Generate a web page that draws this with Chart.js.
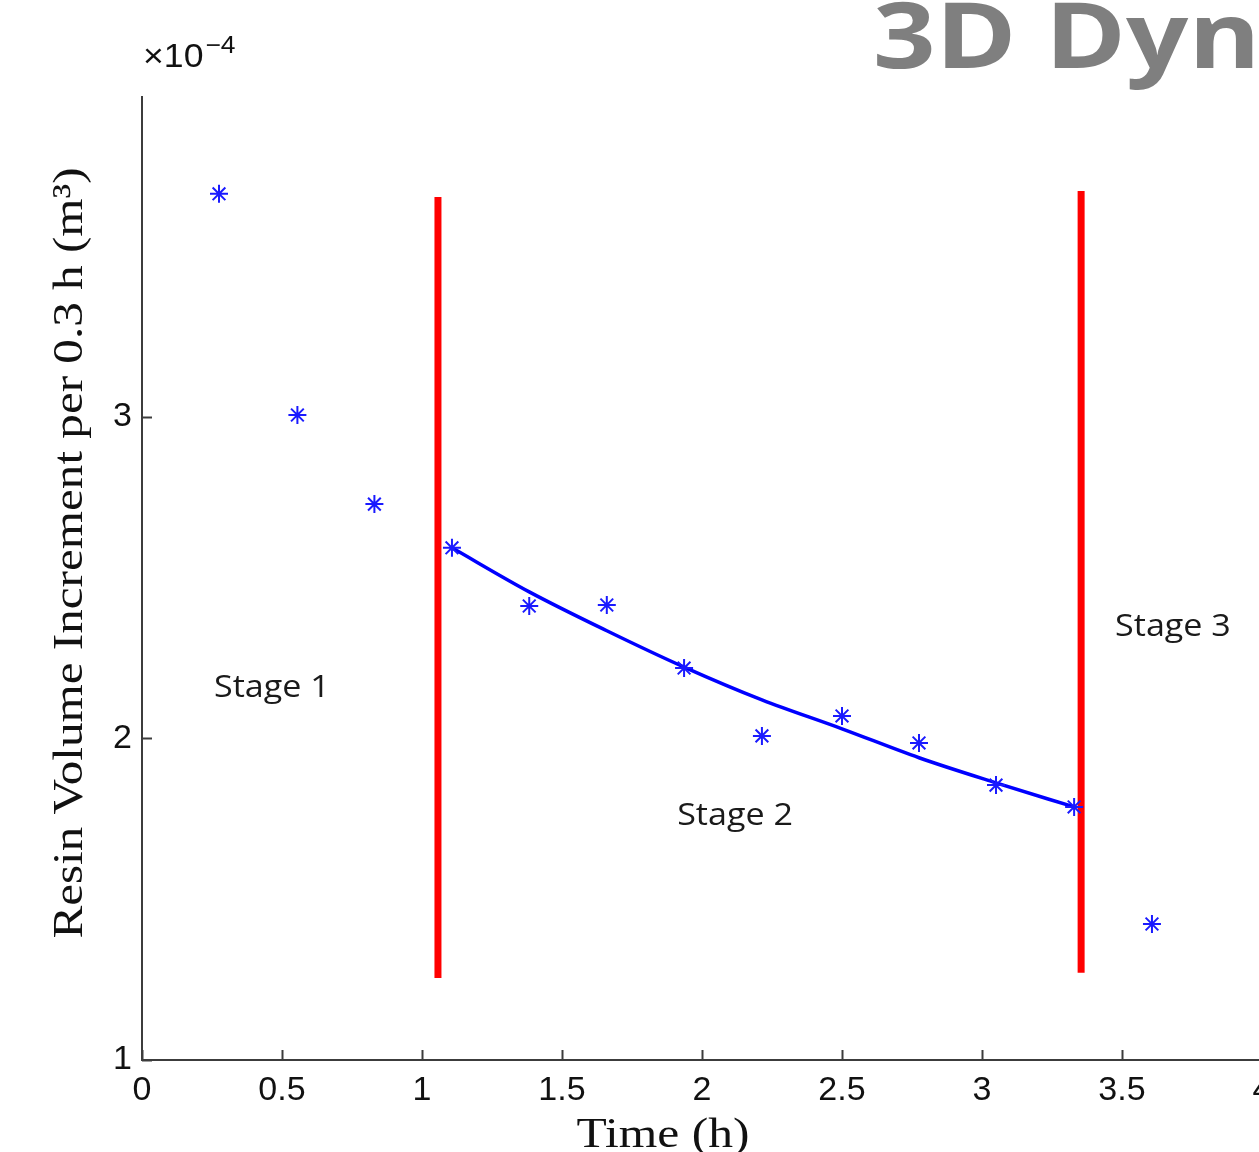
<!DOCTYPE html>
<html><head><meta charset="utf-8">
<script src="https://cdn.jsdelivr.net/npm/chart.js@4/dist/chart.umd.min.js"></script>
<style>
html,body{margin:0;padding:0;background:#fff;overflow:hidden;width:1259px;height:1152px}
#wrap{position:absolute;left:0;top:0;width:1300px;height:1152px}
</style></head><body><div id="wrap"><canvas id="c" width="1300" height="1152"></canvas></div>
<script>
// ---- data ----
const timeH      = [0.275, 0.555, 0.83, 1.107, 1.383, 1.66, 1.936, 2.214, 2.5, 2.775, 3.05, 3.329, 3.607];
const volumeInc  = [3.694, 3.006, 2.729, 2.593, 2.412, 2.415, 2.219, 2.008, 2.070, 1.986, 1.855, 1.787, 1.423];
const fitTime    = [1.107, 1.383, 1.66, 1.936, 2.214, 2.5, 2.775, 3.05, 3.329];
const fitValue   = [2.593, 2.456, 2.335, 2.222, 2.120, 2.030, 1.940, 1.862, 1.787];
const boundaryTime = [1.057, 3.354];
const boundaryLow  = [1.255, 1.271];
const boundaryHigh = [3.684, 3.703];
const xTicks = [0, 0.5, 1, 1.5, 2, 2.5, 3, 3.5, 4];
const yTicks = [1, 2, 3];
const stageNames = ['Stage 1', 'Stage 2', 'Stage 3'];
const stageTime  = [0.464, 2.118, 3.682];
const stageValue = [2.157, 1.759, 2.345];
const xTitle = 'Time (h)';
const yTitle = 'Resin Volume Increment per 0.3 h (m\u00B3)';
const headerText = '3D Dyn';

const datasets = [];
boundaryTime.forEach((t, i) => {
  datasets.push({
    type: 'line',
    data: [{x: t, y: boundaryLow[i]}, {x: t, y: boundaryHigh[i]}],
    borderColor: '#ff0000', borderWidth: 7, pointRadius: 0, borderCapStyle: 'butt', order: 1
  });
});
datasets.push({
  type: 'line',
  data: fitTime.map((t, i) => ({x: t, y: fitValue[i]})),
  borderColor: '#0000ff', borderWidth: 3.5, pointRadius: 0, cubicInterpolationMode: 'monotone', order: 2
});
datasets.push({
  type: 'scatter',
  data: timeH.map((t, i) => ({x: t, y: volumeInc[i]})),
  pointStyle: 'star', pointRadius: 9, borderWidth: 2,
  borderColor: '#1a1aff', backgroundColor: '#1a1aff', order: 0
});

function stretchedText(ctx, text, x, y, sx) {
  ctx.save();
  ctx.translate(x, y);
  ctx.scale(sx, 1);
  ctx.fillText(text, 0, 0);
  ctx.restore();
}

const decor = {
  id: 'decor',
  afterDraw(chart) {
    const ctx = chart.ctx;
    const xs = chart.scales.x, ys = chart.scales.y;
    const ca = chart.chartArea;
    ctx.save();
    // inward tick marks
    ctx.strokeStyle = '#3c3c3c';
    ctx.lineWidth = 2;
    xs.ticks.forEach(t => {
      const px = Math.round(xs.getPixelForValue(t.value)) + 0.5;
      ctx.beginPath(); ctx.moveTo(px, ca.bottom); ctx.lineTo(px, ca.bottom - 10); ctx.stroke();
    });
    ys.ticks.forEach(t => {
      const py = Math.round(ys.getPixelForValue(t.value)) + 0.5;
      ctx.beginPath(); ctx.moveTo(ca.left, py); ctx.lineTo(ca.left + 10, py); ctx.stroke();
    });
    // exponent label
    ctx.fillStyle = '#111';
    ctx.textBaseline = 'alphabetic';
    ctx.textAlign = 'left';
    ctx.font = '33px "Liberation Sans", Arial, sans-serif';
    stretchedText(ctx, '\u00D710', 143, 67, 1.08);
    const w = ctx.measureText('\u00D710').width * 1.08;
    ctx.font = '24px "Liberation Sans", Arial, sans-serif';
    stretchedText(ctx, '\u22124', 143 + w + 2, 53, 1.1);
    // stage labels
    ctx.font = '31px "Open Sans", sans-serif';
    ctx.textAlign = 'center';
    ctx.textBaseline = 'middle';
    ctx.fillStyle = '#1a1a1a';
    stageNames.forEach((s, i) => {
      stretchedText(ctx, s, xs.getPixelForValue(stageTime[i]), ys.getPixelForValue(stageValue[i]), 1.1);
    });
    // axis titles
    ctx.fillStyle = '#111';
    ctx.font = '42px "Liberation Serif", "Times New Roman", serif';
    ctx.textAlign = 'center';
    ctx.textBaseline = 'alphabetic';
    stretchedText(ctx, xTitle, 663, 1147, 1.18);
    ctx.save();
    ctx.translate(82, 553);
    ctx.rotate(-Math.PI / 2);
    ctx.scale(1.17, 1);
    ctx.fillText(yTitle, 0, 0);
    ctx.restore();
    // header
    ctx.font = 'bold 92px "Open Sans", sans-serif';
    ctx.fillStyle = '#7f7f7f';
    ctx.textAlign = 'left';
    stretchedText(ctx, headerText, 873, 68, 1.19);
    ctx.restore();
  }
};

const tickFont = {family: '"Liberation Sans", Arial, sans-serif', size: 34};
new Chart(document.getElementById('c'), {
  data: {datasets},
  options: {
    responsive: false, animation: false, devicePixelRatio: 1,
    layout: {padding: {left: 0, top: 97, right: 38, bottom: 0}},
    plugins: {legend: {display: false}, tooltip: {enabled: false}},
    scales: {
      x: {
        type: 'linear', min: 0, max: 4,
        afterBuildTicks: s => { s.ticks = xTicks.map(v => ({value: v})); },
        afterFit: s => { s.height = 92; },
        grid: {display: false, drawTicks: false},
        border: {display: true, color: '#3c3c3c', width: 2},
        ticks: {font: tickFont, color: '#111', padding: 10, maxRotation: 0, autoSkip: false,
                callback: v => String(v)}
      },
      y: {
        type: 'linear', min: 1, max: 3.995,
        afterBuildTicks: s => { s.ticks = yTicks.map(v => ({value: v})); },
        afterFit: s => { s.width = 142; },
        grid: {display: false, drawTicks: false},
        border: {display: true, color: '#3c3c3c', width: 2},
        ticks: {font: tickFont, color: '#111', padding: 10, autoSkip: false,
                callback: v => String(v)}
      }
    }
  },
  plugins: [decor]
});
</script></body></html>
